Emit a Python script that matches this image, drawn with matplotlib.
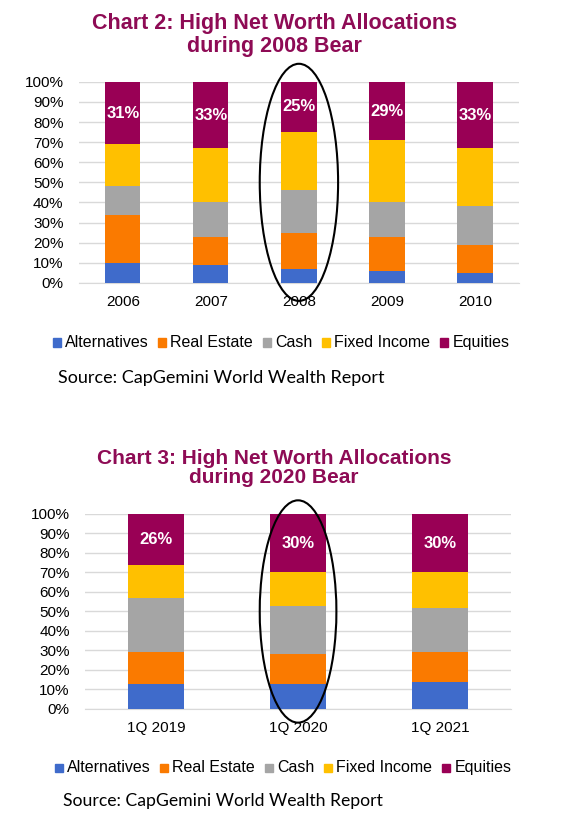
import matplotlib.pyplot as plt
from matplotlib.patches import Ellipse, Rectangle

plt.rcParams['font.family'] = ['Liberation Sans', 'DejaVu Sans']

series = ['Alternatives', 'Real Estate', 'Cash', 'Fixed Income', 'Equities']
colors = ['#3F6BCB', '#FA7A00', '#A5A5A5', '#FFC000', '#990055']

years_2008 = ['2006', '2007', '2008', '2009', '2010']
alt_2008 = [10, 9, 7, 6, 5]
re_2008 = [24, 14, 18, 17, 14]
cash_2008 = [14, 17, 21, 17, 19]
fi_2008 = [21, 27, 29, 31, 29]
eq_2008 = [31, 33, 25, 29, 33]

quarters_2020 = ['1Q 2019', '1Q 2020', '1Q 2021']
alt_2020 = [13, 13, 14]
re_2020 = [16, 15, 15]
cash_2020 = [28, 25, 23]
fi_2020 = [17, 17, 18]
eq_2020 = [26, 30, 30]

title_color = '#8E0B55'
W, H = 571, 827


def stacked(ax, cats, data, ell_idx, ell_w, ell_h):
    x = list(range(len(cats)))
    bottom = [0] * len(cats)
    for vals, c in zip(data, colors):
        ax.bar(x, vals, width=0.4, bottom=bottom, color=c, zorder=3)
        bottom = [b + v for b, v in zip(bottom, vals)]
    eq = data[-1]
    for i, v in enumerate(eq):
        ax.text(i, 100 - v / 2, f'{v}%', color='white', fontweight='bold',
                fontsize=12, ha='center', va='center', zorder=4)
    ax.set_ylim(0, 100)
    ax.set_xlim(-0.5, len(cats) - 0.5)
    ax.set_yticks(range(0, 101, 10))
    ax.set_yticklabels([f'{t}%' for t in range(0, 101, 10)], fontsize=11)
    ax.set_xticks(x)
    ax.set_xticklabels(cats, fontsize=11)
    ax.tick_params(axis='y', length=0, pad=11)
    ax.tick_params(axis='x', length=0, pad=9)
    ax.yaxis.grid(True, color='#D9D9D9', linewidth=1, zorder=0)
    for s in ['top', 'right', 'left']:
        ax.spines[s].set_visible(False)
    ax.spines['bottom'].set_color('#D9D9D9')
    ell = Ellipse((ell_idx, 50), ell_w, ell_h, fill=False, edgecolor='black',
                  linewidth=1.5, clip_on=False, zorder=5)
    ax.add_patch(ell)


def legend_row(fig, x_center, baseline):
    # legend drawn by hand so every label sits on one baseline
    r = fig.canvas.get_renderer()
    sq, gap, sep = 8, 4, 10
    texts = [fig.text(0, 1 - baseline / H, s, fontsize=11.5, va='baseline')
             for s in series]
    widths = [t.get_window_extent(r).width for t in texts]
    total = sum(widths) + len(series) * (sq + gap) + (len(series) - 1) * sep
    x = x_center - total / 2
    for t, w, c in zip(texts, widths, colors):
        fig.add_artist(Rectangle((x / W, 1 - (baseline - 0.5) / H), sq / W, sq / H,
                                 transform=fig.transFigure, color=c))
        t.set_x((x + sq + gap) / W)
        x += sq + gap + w + sep


fig = plt.figure(figsize=(5.71, 8.27), dpi=100)

ax1 = fig.add_axes([0.138, 0.658, 0.771, 0.243])
stacked(ax1, years_2008, [alt_2008, re_2008, cash_2008, fi_2008, eq_2008], 2, 0.89, 118)

ax2 = fig.add_axes([0.149, 0.1427, 0.746, 0.2358])
stacked(ax2, quarters_2020, [alt_2020, re_2020, cash_2020, fi_2020, eq_2020], 1, 0.54, 114)

fig.text(0.48, 0.958, 'Chart 2: High Net Worth Allocations\nduring 2008 Bear',
         ha='center', va='center', fontsize=15.5, fontweight='bold',
         color=title_color, linespacing=1.15)
fig.text(0.48, 0.434, 'Chart 3: High Net Worth Allocations\nduring 2020 Bear',
         ha='center', va='center', fontsize=15, fontweight='bold',
         color=title_color, linespacing=1.05)

legend_row(fig, 281, 347)
legend_row(fig, 283, 772)

fig.text(58 / W, 1 - 378 / H, 'Source: CapGemini World Wealth Report',
         fontsize=13, va='center', family=['Lato', 'DejaVu Sans'])
fig.text(63 / W, 1 - 801 / H, 'Source: CapGemini World Wealth Report',
         fontsize=12.7, va='center', family=['Lato', 'DejaVu Sans'])

fig.savefig('out.png', dpi=100)
